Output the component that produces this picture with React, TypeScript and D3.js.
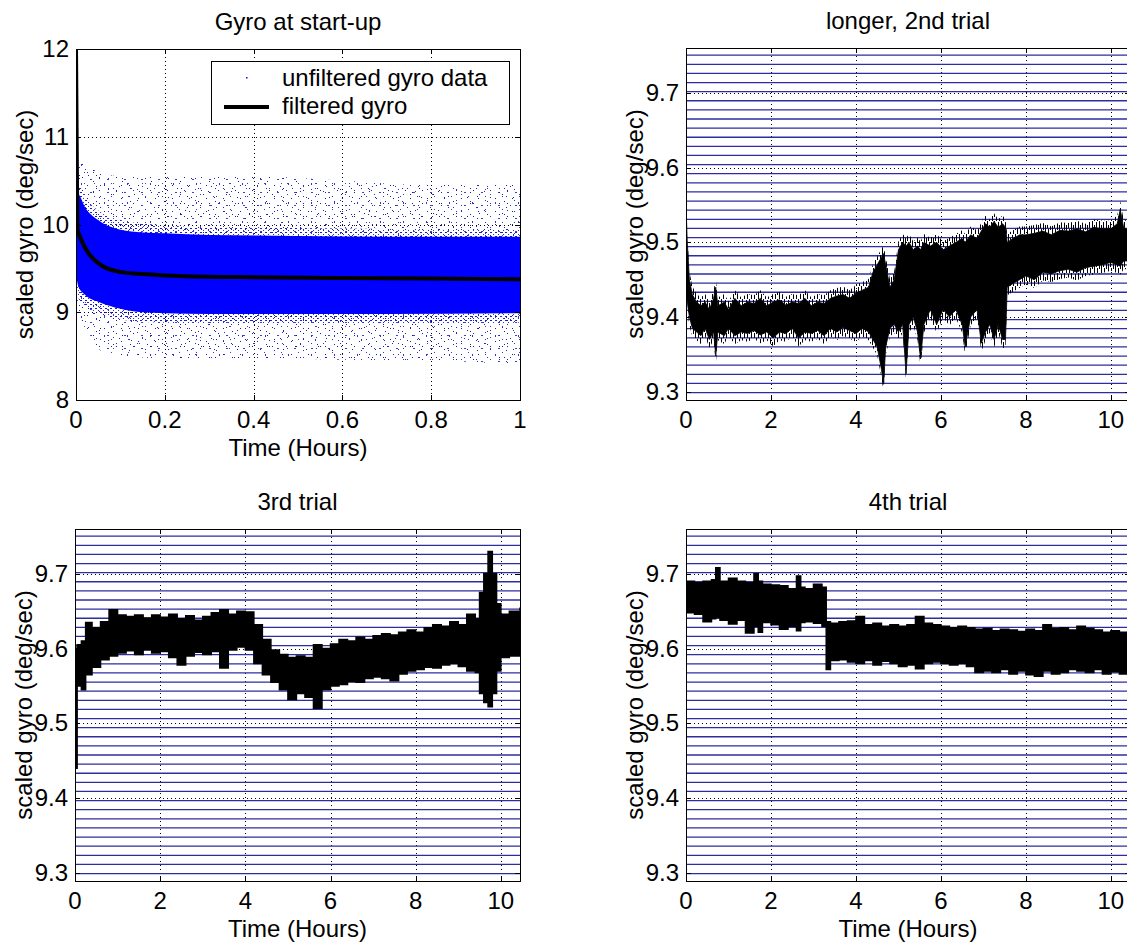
import React from 'react';
import * as d3 from 'd3';

const FONT = '"Liberation Sans", Arial, Helvetica, sans-serif';
const FS = 24;

// ---------- Panel 1: Gyro at start-up ----------
const startupHours = [0, 0.003, 0.01, 0.02, 0.03, 0.05, 0.07, 0.1, 0.15, 0.2, 0.3, 0.4, 0.6, 0.8, 1.0];
const startupFiltered = [12, 9.95, 9.85, 9.74, 9.66, 9.56, 9.5, 9.46, 9.435, 9.42, 9.405, 9.4, 9.39, 9.385, 9.375];

const rawCoreHours = [0, 0.005, 0.02, 0.05, 0.1, 0.15, 0.2, 0.3, 0.5, 0.7, 1.0];
const rawCoreHigh = [10.36, 10.35, 10.2, 10.05, 9.94, 9.91, 9.9, 9.88, 9.87, 9.86, 9.86];
const rawCoreLow = [9.45, 9.3, 9.2, 9.12, 9.04, 9.0, 8.99, 8.98, 8.98, 8.98, 8.99];
const rawFringeHigh = [10.5, 10.47, 10.32, 10.16, 10.05, 10.01, 9.99, 9.97, 9.96, 9.95, 9.95];
const rawFringeLow = [9.3, 9.17, 9.07, 8.99, 8.92, 8.89, 8.88, 8.87, 8.87, 8.87, 8.88];

const rawSpreadHours = [0, 0.01, 0.03, 0.06, 0.1, 0.2, 0.4, 0.6, 0.8, 1.0];
const rawSpreadHigh = [10.5, 10.7, 10.65, 10.58, 10.55, 10.55, 10.55, 10.5, 10.45, 10.45];
const rawSpreadLow = [9.2, 8.95, 8.75, 8.55, 8.5, 8.48, 8.48, 8.46, 8.45, 8.4];

const startupXTicks = [0, 0.2, 0.4, 0.6, 0.8, 1];
const startupYTicks = [8, 9, 10, 11, 12];

// ---------- shared for trials ----------
const trialXTicks = [0, 2, 4, 6, 8, 10];
const trialYTicks = [9.3, 9.4, 9.5, 9.6, 9.7];
// quantisation levels of the raw (unfiltered) gyro samples
const rawLevels = [
  9.299, 9.3112, 9.3234, 9.3356, 9.3478, 9.36, 9.3722, 9.3844, 9.3966, 9.4088,
  9.421, 9.4332, 9.4454, 9.4576, 9.4698, 9.482, 9.4942, 9.5064, 9.5186, 9.5308,
  9.543, 9.5552, 9.5674, 9.5796, 9.5918, 9.604, 9.6162, 9.6284, 9.6406, 9.6528,
  9.665, 9.6772, 9.6894, 9.7016, 9.7138, 9.726, 9.7382, 9.7504,
];

// ---------- Panel 2: longer, 2nd trial ----------
const trial2Hours = [0, 0.03, 0.08, 0.15, 0.25, 0.35, 0.45, 0.55, 0.65, 0.7, 0.75, 0.9, 1.0, 1.15, 1.3, 1.45, 1.6, 1.75, 1.9, 2.05, 2.2, 2.35, 2.5, 2.65, 2.8, 2.95, 3.1, 3.25, 3.4, 3.55, 3.7, 3.85, 4.0, 4.15, 4.3, 4.4, 4.5, 4.6, 4.65, 4.7, 4.8, 4.9, 5.0, 5.1, 5.18, 5.25, 5.35, 5.45, 5.52, 5.6, 5.75, 5.9, 6.05, 6.2, 6.35, 6.5, 6.57, 6.7, 6.85, 6.95, 7.05, 7.15, 7.25, 7.35, 7.45, 7.52, 7.56, 7.7, 7.85, 8.0, 8.2, 8.4, 8.6, 8.8, 9.0, 9.2, 9.4, 9.6, 9.8, 10.0, 10.15, 10.22, 10.3, 10.45];
const trial2Low = [9.44, 9.42, 9.4, 9.385, 9.38, 9.375, 9.385, 9.37, 9.38, 9.348, 9.38, 9.375, 9.385, 9.375, 9.38, 9.378, 9.382, 9.376, 9.38, 9.372, 9.38, 9.378, 9.385, 9.372, 9.38, 9.378, 9.382, 9.375, 9.385, 9.38, 9.386, 9.382, 9.378, 9.385, 9.38, 9.37, 9.36, 9.33, 9.31, 9.36, 9.385, 9.39, 9.38, 9.39, 9.324, 9.39, 9.4, 9.38, 9.344, 9.39, 9.41, 9.39, 9.41, 9.4, 9.41, 9.39, 9.36, 9.4, 9.41, 9.365, 9.38, 9.39, 9.37, 9.39, 9.37, 9.37, 9.44, 9.445, 9.45, 9.455, 9.45, 9.46, 9.458, 9.462, 9.464, 9.46, 9.466, 9.468, 9.47, 9.473, 9.47, 9.468, 9.475, 9.475];
const trial2High = [9.55, 9.5, 9.45, 9.43, 9.42, 9.415, 9.42, 9.41, 9.425, 9.44, 9.415, 9.42, 9.41, 9.425, 9.415, 9.42, 9.418, 9.425, 9.415, 9.42, 9.423, 9.416, 9.42, 9.418, 9.425, 9.415, 9.42, 9.418, 9.425, 9.428, 9.43, 9.425, 9.432, 9.436, 9.44, 9.46, 9.47, 9.48, 9.485, 9.47, 9.44, 9.45, 9.49, 9.5, 9.495, 9.5, 9.49, 9.495, 9.49, 9.5, 9.495, 9.5, 9.49, 9.495, 9.5, 9.505, 9.5, 9.51, 9.505, 9.515, 9.525, 9.52, 9.528, 9.52, 9.525, 9.52, 9.5, 9.505, 9.51, 9.51, 9.512, 9.515, 9.51, 9.516, 9.515, 9.518, 9.514, 9.52, 9.518, 9.518, 9.525, 9.544, 9.52, 9.515];

// ---------- Panel 3: 3rd trial ----------
const trial3Hours = [0, 0.05, 0.15, 0.25, 0.4, 0.6, 0.8, 1.0, 1.2, 1.4, 1.6, 1.8, 2.0, 2.2, 2.4, 2.6, 2.8, 3.0, 3.2, 3.4, 3.6, 3.8, 4.0, 4.2, 4.4, 4.6, 4.8, 5.0, 5.2, 5.4, 5.6, 5.8, 6.0, 6.2, 6.4, 6.6, 6.8, 7.0, 7.2, 7.4, 7.6, 7.8, 8.0, 8.2, 8.4, 8.6, 8.8, 9.0, 9.2, 9.4, 9.5, 9.6, 9.7, 9.8, 9.9, 10.0, 10.2, 10.45];
const trial3Low = [9.44, 9.55, 9.545, 9.565, 9.575, 9.585, 9.59, 9.594, 9.597, 9.592, 9.598, 9.594, 9.596, 9.588, 9.578, 9.59, 9.595, 9.592, 9.596, 9.574, 9.598, 9.602, 9.598, 9.58, 9.565, 9.555, 9.545, 9.532, 9.54, 9.535, 9.52, 9.545, 9.55, 9.552, 9.556, 9.555, 9.56, 9.562, 9.56, 9.557, 9.566, 9.57, 9.572, 9.575, 9.574, 9.578, 9.58, 9.576, 9.57, 9.568, 9.54, 9.528, 9.522, 9.54, 9.57, 9.588, 9.59, 9.59];
const trial3High = [9.6, 9.605, 9.61, 9.635, 9.628, 9.636, 9.652, 9.645, 9.643, 9.645, 9.641, 9.645, 9.642, 9.646, 9.64, 9.644, 9.638, 9.643, 9.648, 9.652, 9.646, 9.65, 9.649, 9.632, 9.612, 9.598, 9.592, 9.588, 9.59, 9.588, 9.605, 9.6, 9.606, 9.612, 9.61, 9.615, 9.612, 9.617, 9.62, 9.618, 9.622, 9.625, 9.622, 9.628, 9.632, 9.63, 9.636, 9.632, 9.646, 9.64, 9.675, 9.7, 9.73, 9.7, 9.66, 9.646, 9.65, 9.655];

// ---------- Panel 4: 4th trial ----------
const trial4Hours = [0, 0.2, 0.4, 0.6, 0.7, 0.8, 1.0, 1.2, 1.4, 1.6, 1.7, 1.8, 2.0, 2.2, 2.4, 2.6, 2.7, 2.8, 3.0, 3.2, 3.3, 3.4, 3.6, 3.8, 4.0, 4.2, 4.4, 4.6, 4.8, 5.0, 5.2, 5.4, 5.6, 5.8, 6.0, 6.2, 6.4, 6.6, 6.8, 7.0, 7.2, 7.4, 7.6, 7.8, 8.0, 8.2, 8.4, 8.6, 8.8, 9.0, 9.2, 9.4, 9.6, 9.8, 10.0, 10.2, 10.45];
const trial4Low = [9.648, 9.646, 9.636, 9.64, 9.642, 9.638, 9.633, 9.638, 9.621, 9.63, 9.622, 9.635, 9.632, 9.626, 9.63, 9.624, 9.635, 9.636, 9.634, 9.63, 9.572, 9.584, 9.585, 9.582, 9.58, 9.584, 9.578, 9.583, 9.58, 9.576, 9.578, 9.573, 9.58, 9.582, 9.58, 9.578, 9.58, 9.576, 9.568, 9.57, 9.568, 9.572, 9.566, 9.57, 9.565, 9.563, 9.57, 9.566, 9.568, 9.572, 9.57, 9.568, 9.572, 9.566, 9.569, 9.566, 9.57];
const trial4High = [9.69, 9.688, 9.69, 9.692, 9.708, 9.69, 9.694, 9.69, 9.688, 9.7, 9.69, 9.686, 9.685, 9.684, 9.68, 9.697, 9.682, 9.68, 9.686, 9.682, 9.636, 9.634, 9.636, 9.637, 9.643, 9.632, 9.634, 9.63, 9.632, 9.63, 9.632, 9.643, 9.634, 9.632, 9.63, 9.628, 9.63, 9.628, 9.626, 9.627, 9.624, 9.626, 9.625, 9.623, 9.626, 9.624, 9.632, 9.627, 9.628, 9.625, 9.63, 9.627, 9.625, 9.622, 9.624, 9.622, 9.622];

type Layout = { x: number; y: number; w: number; h: number };
const L1: Layout = { x: 76, y: 49, w: 444, h: 351 };
const L2: Layout = { x: 686, y: 48, w: 444, h: 352 };
const L3: Layout = { x: 75, y: 529, w: 445, h: 352 };
const L4: Layout = { x: 686, y: 529, w: 444, h: 352 };
const TRIAL_X: [number, number] = [0, 10.45];
const TRIAL_Y: [number, number] = [9.289, 9.76];
const HAIR = 0.011; // thickness (data units) of the hairy noise fringe on the thin trace

function scales(l: Layout, xd: [number, number], yd: [number, number]) {
  const x = d3.scaleLinear().domain(xd).range([l.x, l.x + l.w]);
  const y = d3.scaleLinear().domain(yd).range([l.y + l.h, l.y]);
  return { x, y };
}
const crisp = (v: number) => Math.round(v) + 0.5;

function Grid({ l, x, y, xTicks, yTicks }: any) {
  return (
    <g stroke="#000" strokeWidth={1} strokeDasharray="1,3" fill="none">
      {xTicks.slice(1).map((t: number) => (
        <line key={'gx' + t} x1={crisp(x(t))} x2={crisp(x(t))} y1={l.y} y2={l.y + l.h} />
      ))}
      {yTicks.map((t: number) => (
        <line key={'gy' + t} x1={l.x} x2={l.x + l.w} y1={crisp(y(t))} y2={crisp(y(t))} />
      ))}
    </g>
  );
}

function Frame({ l, x, y, xTicks, yTicks, fmtX, fmtY, title, xlabel }: any) {
  const tl = 5;
  return (
    <g fontFamily={FONT} fontSize={FS} fill="#000">
      <rect x={l.x + 0.5} y={l.y + 0.5} width={l.w} height={l.h} fill="none" stroke="#000" strokeWidth={1} />
      <g stroke="#000" strokeWidth={1}>
        {xTicks.map((t: number) => (
          <g key={'tx' + t}>
            <line x1={crisp(x(t))} x2={crisp(x(t))} y1={l.y + l.h} y2={l.y + l.h - tl} />
            <line x1={crisp(x(t))} x2={crisp(x(t))} y1={l.y} y2={l.y + tl} />
          </g>
        ))}
        {yTicks.map((t: number) => (
          <g key={'ty' + t}>
            <line x1={l.x} x2={l.x + tl} y1={crisp(y(t))} y2={crisp(y(t))} />
            <line x1={l.x + l.w} x2={l.x + l.w - tl} y1={crisp(y(t))} y2={crisp(y(t))} />
          </g>
        ))}
      </g>
      {xTicks.map((t: number) => (
        <text key={'lx' + t} x={x(t)} y={l.y + l.h + 28} textAnchor="middle">{fmtX(t)}</text>
      ))}
      {yTicks.map((t: number) => (
        <text key={'ly' + t} x={l.x - 7} y={y(t) + 8} textAnchor="end">{fmtY(t)}</text>
      ))}
      <text x={l.x + l.w / 2} y={l.y - 19} textAnchor="middle">{title}</text>
      {xlabel ? (
        <text x={l.x + l.w / 2} y={l.y + l.h + 56} textAnchor="middle">{xlabel}</text>
      ) : null}
      <text
        transform={`translate(${l.x - 52},${l.y + l.h / 2}) rotate(-90)`}
        textAnchor="middle"
        dominantBaseline="central"
      >
        scaled gyro (deg/sec)
      </text>
    </g>
  );
}

function TrialPanel({ id, l, hours, low, high, title, xlabel, blocky }: any) {
  const { x, y } = scales(l, TRIAL_X, TRIAL_Y);
  const curve = blocky ? d3.curveStepAfter : d3.curveLinear;
  const band = d3
    .area<number>()
    .x((_, i) => x(hours[i]))
    .y0((_, i) => y(low[i]))
    .y1((_, i) => y(high[i]))
    .curve(curve);
  const upperHair = d3
    .area<number>()
    .x((_, i) => x(hours[i]))
    .y0((_, i) => y(high[i]))
    .y1((_, i) => y(high[i] + HAIR))
    .curve(curve);
  const lowerHair = d3
    .area<number>()
    .x((_, i) => x(hours[i]))
    .y0((_, i) => y(low[i] - HAIR))
    .y1((_, i) => y(low[i]))
    .curve(curve);
  const fmt = (t: number) => d3.format('.1f')(t);
  return (
    <g>
      <defs>
        <clipPath id={id}>
          <rect x={l.x} y={l.y} width={l.w} height={l.h} />
        </clipPath>
        <pattern id={id + 'hair'} width={7} height={13} patternUnits="userSpaceOnUse">
          <rect x={0} y={0} width={1} height={9} fill="#000" />
          <rect x={2} y={4} width={1} height={9} fill="#000" />
          <rect x={4} y={1} width={1} height={6} fill="#000" />
          <rect x={5} y={8} width={1} height={5} fill="#000" />
        </pattern>
      </defs>
      <rect x={l.x} y={l.y} width={l.w} height={l.h} fill="#fff" />
      <Grid l={l} x={x} y={y} xTicks={trialXTicks} yTicks={trialYTicks} />
      <g clipPath={`url(#${id})`}>
        <g stroke="#2d2da0" strokeWidth={1.3}>
          {rawLevels.map((v) => (
            <line key={v} x1={x(TRIAL_X[0])} x2={x(TRIAL_X[1])} y1={y(v)} y2={y(v)} />
          ))}
        </g>
        {!blocky ? (
          <g>
            <path d={upperHair(hours) || ''} fill={`url(#${id}hair)`} />
            <path d={lowerHair(hours) || ''} fill={`url(#${id}hair)`} />
          </g>
        ) : null}
        <path d={band(hours) || ''} fill="#000" stroke="#000" strokeWidth={blocky ? 1.5 : 0.8} />
      </g>
      <Frame
        l={l}
        x={x}
        y={y}
        xTicks={trialXTicks}
        yTicks={trialYTicks}
        fmtX={(t: number) => String(t)}
        fmtY={fmt}
        title={title}
        xlabel={xlabel}
      />
    </g>
  );
}

function StartupPanel() {
  const l = L1;
  const { x, y } = scales(l, [0, 1], [8, 12]);
  const mk = (hrs: number[], lo: number[], hi: number[]) =>
    d3
      .area<number>()
      .x((_, i) => x(hrs[i]))
      .y0((_, i) => y(lo[i]))
      .y1((_, i) => y(hi[i]))
      .curve(d3.curveMonotoneX)(hrs) || '';
  const filt = d3
    .line<number>()
    .x((_, i) => x(startupHours[i]))
    .y((v) => y(v))
    .curve(d3.curveMonotoneX);
  const spreadD = mk(rawSpreadHours, rawSpreadLow, rawSpreadHigh);
  const fringeD = mk(rawCoreHours, rawFringeLow, rawFringeHigh);
  const coreD = mk(rawCoreHours, rawCoreLow, rawCoreHigh);
  return (
    <g>
      <defs>
        <clipPath id="clip1">
          <rect x={l.x} y={l.y} width={l.w} height={l.h} />
        </clipPath>
        <pattern id="dotsA" width={17} height={13} patternUnits="userSpaceOnUse">
          <rect x={2} y={3} width={1} height={1} fill="#1c1cb8" />
          <rect x={9} y={1} width={1} height={1} fill="#3a3ad0" />
          <rect x={14} y={8} width={1} height={1} fill="#1c1cb8" />
          <rect x={5} y={10} width={2} height={1} fill="#4040c8" />
          <rect x={11} y={6} width={1} height={1} fill="#2020a0" />
        </pattern>
        <pattern id="dotsB" width={23} height={19} patternUnits="userSpaceOnUse">
          <rect x={4} y={15} width={1} height={1} fill="#2a2ac0" />
          <rect x={19} y={4} width={1} height={1} fill="#1c1cb0" />
          <rect x={12} y={12} width={1} height={2} fill="#3434c8" />
          <rect x={7} y={7} width={1} height={1} fill="#2020a8" />
          <rect x={16} y={17} width={1} height={1} fill="#3030c0" />
          <rect x={1} y={1} width={1} height={1} fill="#2525b0" />
        </pattern>
        <pattern id="dotsC" width={29} height={11} patternUnits="userSpaceOnUse">
          <rect x={6} y={5} width={1} height={1} fill="#1818a8" />
          <rect x={21} y={2} width={1} height={1} fill="#3030c8" />
          <rect x={13} y={9} width={1} height={1} fill="#2424b4" />
          <rect x={26} y={7} width={1} height={1} fill="#3a3ad0" />
        </pattern>
        <pattern id="dotsD" width={5} height={4} patternUnits="userSpaceOnUse">
          <rect x={0} y={0} width={2} height={1} fill="#1a1ae0" />
          <rect x={3} y={2} width={1} height={1} fill="#2a2ad8" />
        </pattern>
      </defs>
      <rect x={l.x} y={l.y} width={l.w} height={l.h} fill="#fff" />
      <Grid l={l} x={x} y={y} xTicks={startupXTicks} yTicks={startupYTicks} />
      <g clipPath="url(#clip1)">
        <path d={spreadD} fill="url(#dotsA)" />
        <path d={spreadD} fill="url(#dotsB)" />
        <path d={spreadD} fill="url(#dotsC)" />
        <path d={fringeD} fill="url(#dotsD)" />
        <path d={coreD} fill="#0000ff" />
        <path d={filt(startupFiltered) || ''} fill="none" stroke="#000" strokeWidth={4} />
      </g>
      <Frame
        l={l}
        x={x}
        y={y}
        xTicks={startupXTicks}
        yTicks={startupYTicks}
        fmtX={(t: number) => String(t)}
        fmtY={(t: number) => String(t)}
        title="Gyro at start-up"
        xlabel="Time (Hours)"
      />
      {/* legend */}
      <g fontFamily={FONT} fontSize={FS}>
        <rect x={211.5} y={61.5} width={298} height={63} fill="#fff" stroke="#000" strokeWidth={1} />
        <rect x={246} y={77} width={1.5} height={1.5} fill="#0000ff" />
        <line x1={224} x2={269} y1={107} y2={107} stroke="#000" strokeWidth={4} />
        <text x={282} y={86}>unfiltered gyro data</text>
        <text x={282} y={114}>filtered gyro</text>
      </g>
    </g>
  );
}

export default function App() {
  return (
    <svg
      width={1127}
      height={947}
      viewBox="0 0 1127 947"
      style={{ position: 'absolute', left: 0, top: 0, display: 'block', background: '#fff' }}
    >
      <rect x={0} y={0} width={1127} height={947} fill="#fff" />
      <StartupPanel />
      <TrialPanel id="clip2" l={L2} hours={trial2Hours} low={trial2Low} high={trial2High} title="longer, 2nd trial" xlabel={null} blocky={false} />
      <TrialPanel id="clip3" l={L3} hours={trial3Hours} low={trial3Low} high={trial3High} title="3rd trial" xlabel="Time (Hours)" blocky={true} />
      <TrialPanel id="clip4" l={L4} hours={trial4Hours} low={trial4Low} high={trial4High} title="4th trial" xlabel="Time (Hours)" blocky={true} />
    </svg>
  );
}
